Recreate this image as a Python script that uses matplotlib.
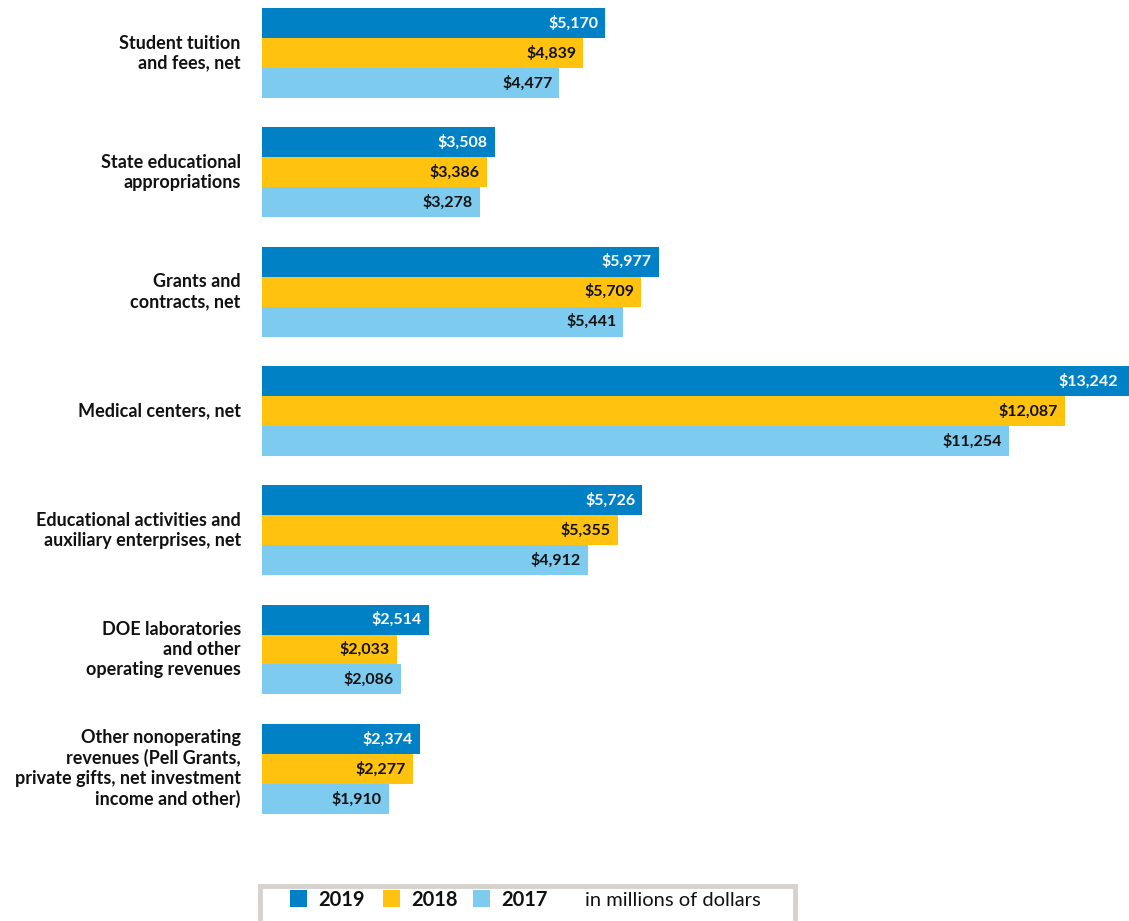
import matplotlib.pyplot as plt
from matplotlib.patches import Rectangle

categories = [
    'Student tuition\nand fees, net',
    'State educational\nappropriations',
    'Grants and\ncontracts, net',
    'Medical centers, net',
    'Educational activities and\nauxiliary enterprises, net',
    'DOE laboratories\nand other\noperating revenues',
    'Other nonoperating\nrevenues (Pell Grants,\nprivate gifts, net investment\nincome and other)',
]
years = ['2019', '2018', '2017']
v2019 = [5170, 3508, 5977, 13242, 5726, 2514, 2374]
v2018 = [4839, 3386, 5709, 12087, 5355, 2033, 2277]
v2017 = [4477, 3278, 5441, 11254, 4912, 2086, 1910]
colors = ['#0081C6', '#FFC20E', '#7DCBEF']
label_colors = ['white', '#111111', '#111111']

plt.rcParams['font.family'] = ['Lato', 'DejaVu Sans']

W, H = 1129, 921
fig = plt.figure(figsize=(W / 100, H / 100), dpi=100)
ax = fig.add_axes([262 / W, 0, 867 / W, 1])

pitch = 119.3
bh = 30 / pitch
y0 = 53 / pitch
xmax = 867 / 0.0664
ax.set_xlim(0, xmax)
ax.set_ylim(H / pitch - y0, -y0)

series = [v2019, v2018, v2017]
for k, vals in enumerate(series):
    for i, v in enumerate(vals):
        y = i + (k - 1) * bh
        ax.barh(y, v, height=bh, color=colors[k], linewidth=0, align='center')
        xe = min(v, xmax)
        off = 170 if v > xmax else 105
        ax.text(xe - off, y, '$' + format(v, ','), ha='right', va='center',
                color=label_colors[k], fontsize=11.5, fontweight='bold')

for i, c in enumerate(categories):
    ax.text(-320, i, c, ha='right', va='center', fontsize=13,
            fontweight='bold', color='#111111', linespacing=1.2)

ax.axis('off')

# legend box
fig.patches.append(Rectangle((260 / W, -0.01), 535 / W, 44 / H,
                             transform=fig.transFigure, facecolor='white',
                             edgecolor='#D6D2CE', linewidth=3.5))
ly = 1 - 900 / H
for x, c, t in zip([290, 383, 473], colors, years):
    fig.patches.append(Rectangle((x / W, 1 - 907 / H), 17 / W, 17 / H,
                                 transform=fig.transFigure, facecolor=c,
                                 linewidth=0))
    fig.text((x + 28) / W, ly, t, ha='left', va='center', fontsize=14.5,
             fontweight='bold', color='#111111')
fig.text(585 / W, ly, 'in millions of dollars', ha='left', va='center',
         fontsize=14.5, color='#111111')

fig.savefig('out.png', dpi=100)
